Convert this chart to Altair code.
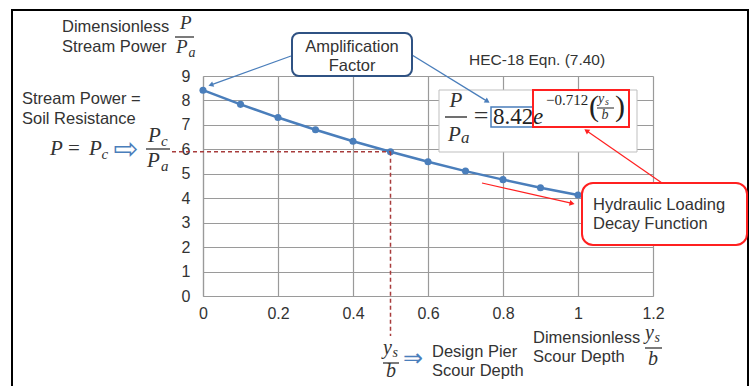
import math
import altair as alt
import pandas as pd

# ---------------- data ----------------
scour_depth = [0.0, 0.1, 0.2, 0.3, 0.4, 0.5, 0.6, 0.7, 0.8, 0.9, 1.0]
stream_power = [8.42, 7.84, 7.30, 6.80, 6.33, 5.90, 5.49, 5.11, 4.76, 4.43, 4.13]
x_ticks = [0, 0.2, 0.4, 0.6, 0.8, 1.0, 1.2]
y_ticks = [0, 1, 2, 3, 4, 5, 6, 7, 8, 9]
design_depth = 0.5
design_power = 5.9

# ---------------- layout / style ----------------
OX, OY = 203, 76          # page position of plot-area origin
W, H = 450, 220
SANS = "Liberation Sans"
SERIF = "Liberation Serif"
TXT = "#333333"
BLUE = "#4a7ebb"
NAVY = "#2f5283"
RED = "#ff2020"
DRED = "#a83c3c"
GRID = "#9a9a9a"

one = alt.Data(values=[{"k": 0}])


def px(x):
    return x - OX


def py(y):
    return y - OY


def text(x, y, s, size=16, font=SANS, style="normal", color=TXT,
         align="left", baseline="alphabetic"):
    return alt.Chart(one).mark_text(
        text=s, font=font, fontSize=size, fontStyle=style, color=color,
        align=align, baseline=baseline
    ).encode(x=alt.value(px(x)), y=alt.value(py(y)))


def rule(x1, y1, x2, y2, color, width=1.5):
    return alt.Chart(one).mark_rule(color=color, strokeWidth=width).encode(
        x=alt.value(px(x1)), y=alt.value(py(y1)),
        x2=alt.value(px(x2)), y2=alt.value(py(y2)))


def box(x1, y1, x2, y2, stroke, width=1.5, radius=0, fill="white", fill_opacity=1):
    return alt.Chart(one).mark_rect(
        fill=fill, fillOpacity=fill_opacity, stroke=stroke, strokeWidth=width,
        cornerRadius=radius
    ).encode(x=alt.value(px(x1)), x2=alt.value(px(x2)),
             y=alt.value(py(y1)), y2=alt.value(py(y2)))


def arrow(x1, y1, x2, y2, color, width=1.2, head=34):
    ang = math.degrees(math.atan2(y2 - y1, x2 - x1)) % 360
    d = math.hypot(x2 - x1, y2 - y1)
    ux, uy = (x2 - x1) / d, (y2 - y1) / d
    cx, cy = x2 - 3 * ux, y2 - 3 * uy
    head_mark = alt.Chart(one).mark_point(
        shape="triangle-right", filled=True, size=head, color=color,
        angle=ang, opacity=1
    ).encode(x=alt.value(px(cx)), y=alt.value(py(cy)))
    return [rule(x1, y1, x2 - 4 * ux, y2 - 4 * uy, color, width), head_mark]


# ---------------- main data chart ----------------
xenc = alt.X("x:Q", scale=alt.Scale(domain=[0, 1.2], nice=False, zero=False),
             axis=alt.Axis(values=x_ticks, format=".1~f", title=None, grid=True,
                           gridColor=GRID, gridWidth=1.2, domainColor=GRID,
                           domainWidth=1.2, ticks=False, labelFont=SANS,
                           labelFontSize=16, labelColor=TXT, labelPadding=9,
                           labelFlush=False, labelOverlap=False))
yenc = alt.Y("y:Q", scale=alt.Scale(domain=[0, 9], nice=False),
             axis=alt.Axis(values=y_ticks, title=None, grid=True,
                           gridColor=GRID, gridWidth=1.2, domainColor=GRID,
                           domainWidth=1.2, ticks=False, labelFont=SANS,
                           labelFontSize=16, labelColor=TXT, labelPadding=13,
                           labelFlush=False, labelOverlap=False))

df = pd.DataFrame({"x": scour_depth, "y": stream_power})
base = alt.Chart(df).encode(x=xenc, y=yenc)
curve = base.mark_line(color=BLUE, strokeWidth=2.5)
points = base.mark_circle(color=BLUE, size=50, opacity=1)

# design dashed lines (data coordinates, extended past the plot area)
x_left = (172 - OX) / (W / 1.2)
y_bottom = -(336 - (OY + H)) / (H / 9)
h_df = pd.DataFrame({"x": [x_left], "x2": [design_depth], "y": [design_power]})
v_df = pd.DataFrame({"x": [design_depth], "y": [design_power], "y2": [y_bottom]})
h_dash = alt.Chart(h_df).mark_rule(color=DRED, strokeDash=[4, 3], strokeWidth=1.5).encode(
    x=xenc, x2="x2:Q", y=yenc)
v_dash = alt.Chart(v_df).mark_rule(color=DRED, strokeDash=[4, 3], strokeWidth=1.5).encode(
    x=xenc, y=yenc, y2="y2:Q")

layers = [curve, points, h_dash, v_dash,
          box(12, 10, 748, 420, "black", width=2, fill_opacity=0)]

# ----- y-axis title: Dimensionless Stream Power P/Pa -----
layers += [
    text(62, 32, "Dimensionless", size=16.5),
    text(62, 52, "Stream Power", size=16.5),
    text(180, 29, "P", size=19, font=SERIF, style="italic"),
    rule(175, 37, 194, 37, "#222222", 1.2),
    text(176, 53, "P", size=19, font=SERIF, style="italic"),
    text(188.5, 57, "a", size=14, font=SERIF, style="italic"),
]

# ----- left: Stream Power = Soil Resistance, P = Pc => Pc/Pa -----
layers += [
    text(22, 104, "Stream Power =", size=16.5),
    text(22, 124, "Soil Resistance", size=16.5),
    text(50, 155, "P", size=21, font=SERIF, style="italic"),
    text(68, 155, "=", size=21, font=SERIF),
    text(89, 155, "P", size=21, font=SERIF, style="italic"),
    text(101.5, 159, "c", size=15, font=SERIF, style="italic"),
    text(126, 150, "\u21e8", size=30, font="DejaVu Sans", color=BLUE,
         align="center", baseline="middle"),
    text(148, 142, "P", size=21, font=SERIF, style="italic"),
    text(161, 146, "c", size=15, font=SERIF, style="italic"),
    rule(146, 149, 170, 149, "#222222", 1.2),
    text(147, 167, "P", size=21, font=SERIF, style="italic"),
    text(161, 171, "a", size=15, font=SERIF, style="italic"),
]

# ----- bottom: ys/b => Design Pier Scour Depth -----
layers += [
    text(383, 354, "y", size=20, font=SERIF, style="italic"),
    text(392.5, 357, "s", size=14, font=SERIF, style="italic"),
    rule(383, 363, 399, 363, "#222222", 1.2),
    text(391, 377, "b", size=20, font=SERIF, style="italic", align="center"),
    text(413, 359, "\u21d2", size=24, font="DejaVu Sans", color=BLUE,
         align="center", baseline="middle"),
    text(432, 357, "Design Pier", size=16.5),
    text(432, 376, "Scour Depth", size=16.5),
    text(533, 343, "Dimensionless", size=16.5),
    text(533, 362, "Scour Depth", size=16.5),
    text(645, 339, "y", size=20, font=SERIF, style="italic"),
    text(654.5, 342, "s", size=14, font=SERIF, style="italic"),
    rule(645, 348, 662, 348, "#222222", 1.2),
    text(653, 365, "b", size=20, font=SERIF, style="italic", align="center"),
]

# ----- HEC-18 equation -----
layers += [
    text(469, 65, "HEC-18 Eqn. (7.40)", size=15.5),
    box(439, 90, 637, 152, "#bfbfbf", width=1),
    text(456, 107, "P", size=21, font=SERIF, style="italic", align="center"),
    rule(445, 117, 467, 117, "#222222", 1.3),
    text(448, 141, "P", size=21, font=SERIF, style="italic"),
    text(461, 143, "a", size=17, font=SERIF, style="italic"),
    text(481, 124, "=", size=26, font=SERIF, align="center"),
    box(491, 107, 533, 127, BLUE, width=1.5, fill_opacity=0),
    text(493, 124, "8.42", size=23, font=SERIF, color="#222222"),
    text(533, 124, "e", size=23, font=SERIF, style="italic", color="#222222"),
    box(533, 90, 629, 127, RED, width=2, fill_opacity=0),
    text(546, 105, "\u22120.712", size=15, font=SERIF, color="#222222"),
    text(589, 116, "(", size=30, font=SERIF, color="#222222"),
    text(598, 103, "y", size=14, font=SERIF, style="italic"),
    text(605, 105, "s", size=10, font=SERIF, style="italic"),
    rule(597, 108, 614, 108, "#222222", 1),
    text(605, 119, "b", size=14, font=SERIF, style="italic", align="center"),
    text(615, 116, ")", size=30, font=SERIF, color="#222222"),
]

# ----- Amplification Factor callout -----
layers += arrow(291, 56, 208, 86, BLUE, 1.3)
layers += arrow(412, 55, 490, 103, BLUE, 1.3)
layers += [
    box(292, 33, 412, 76, NAVY, width=2, radius=7),
    text(352, 52, "Amplification", size=16.5, align="center"),
    text(352, 71, "Factor", size=16.5, align="center"),
]

# ----- Hydraulic Loading Decay Function callout -----
layers += arrow(662, 183, 584, 129, RED, 1.2)
layers += arrow(482, 183, 575, 204, RED, 1.2)
layers += [
    box(582, 183, 747, 245, RED, width=2, radius=11),
    text(593, 210, "Hydraulic Loading", size=16.5),
    text(593, 229, "Decay Function", size=16.5),
]

chart = alt.layer(*layers).properties(
    width=W, height=H,
    padding={"left": OX, "top": OY, "right": 754 - OX - W, "bottom": 386 - OY - H},
    autosize=alt.AutoSizeParams(type="none"),
    background="white",
).configure_view(stroke=None)

chart.save("out.html", embed_options={"renderer": "svg", "actions": False})
